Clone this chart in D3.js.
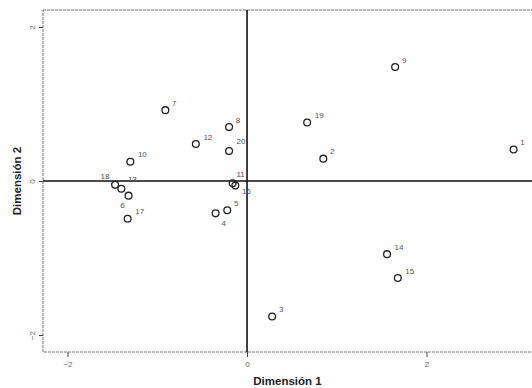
<!DOCTYPE html>
<html>
<head>
<meta charset="utf-8">
<script src="https://cdn.jsdelivr.net/npm/d3@7"></script>
<style>
  body { margin: 0; background: #fff; }
  svg { display: block; font-family: "Liberation Sans", Arial, sans-serif; }
</style>
</head>
<body>
<div class="result"></div>
<script>
// Object labels and their coordinates on the two dimensions
const ids = ['1', '2', '3', '4', '5', '6', '7', '8', '9', '10',
  '11', '12', '13', '14', '15', '16', '17', '18', '19', '20'];
const dim1 = [2.97, 0.85, 0.28, -0.35, -0.22, -1.32, -0.91, -0.20, 1.65, -1.30,
  -0.16, -0.57, -1.40, 1.56, 1.68, -0.13, -1.33, -1.47, 0.67, -0.20];
const dim2 = [0.41, 0.29, -1.76, -0.42, -0.38, -0.19, 0.92, 0.70, 1.48, 0.25,
  -0.03, 0.48, -0.10, -0.95, -1.26, -0.06, -0.49, -0.05, 0.76, 0.39];
const xTicks = [-2, 0, 2];
const yTicks = [-2, 0, 2];
const xTitle = 'Dimensión 1';
const yTitle = 'Dimensión 2';

const dataset = ids.map((id, i) => ({ id: id, x: dim1[i], y: dim2[i] }));

// Width and height
const w = 532;
const h = 388;
const plotLeft = 43, plotRight = 532, plotTop = 10, plotBottom = 352;

// label nudges (label centre relative to the circle) where the default does not fit
const nudge = {
  '4': [8, 10], '6': [-6, 10], '18': [-10, -8], '13': [11, -9],
  '16': [11, 6], '11': [8, -9], '20': [12, -9], '5': [9, -7]
};

const xScale = d3.scaleLinear().domain([-2.273, 3.175]).range([plotLeft, plotRight]);
const yScale = d3.scaleLinear().domain([-2.221, 2.221]).range([plotBottom, plotTop]);

const svg = d3.select('.result')
  .append('svg')
  .attr('width', w)
  .attr('height', h);

// Frame
svg.append('rect')
  .attr('x', plotLeft).attr('y', plotTop)
  .attr('width', plotRight - plotLeft + 2).attr('height', plotBottom - plotTop)
  .attr('fill', 'none')
  .attr('stroke', '#777')
  .attr('stroke-width', 1)
  .attr('stroke-dasharray', '3,1');

// Axes
const xAxis = d3.axisBottom(xScale).tickValues(xTicks).tickSize(5).tickSizeOuter(0)
  .tickFormat(d3.format('d'));
const yAxis = d3.axisLeft(yScale).tickValues(yTicks).tickSize(4).tickSizeOuter(0)
  .tickFormat(d3.format('d'));

const gx = svg.append('g')
  .attr('transform', 'translate(0,' + plotBottom + ')')
  .call(xAxis);
gx.select('.domain').remove();
gx.selectAll('.tick line').attr('stroke', '#444');
gx.selectAll('.tick text')
  .attr('fill', '#666').attr('font-size', 8).attr('dy', '0.9em');

const gy = svg.append('g')
  .attr('transform', 'translate(' + plotLeft + ',0)')
  .call(yAxis);
gy.select('.domain').remove();
gy.selectAll('.tick line').attr('stroke', '#444');
gy.selectAll('.tick text')
  .attr('fill', '#666').attr('font-size', 8)
  .attr('x', 0).attr('dy', 0)
  .attr('text-anchor', 'middle')
  .attr('transform', 'translate(-8,0) rotate(-90)');

// Zero reference lines
svg.append('line')
  .attr('x1', plotLeft).attr('x2', plotRight)
  .attr('y1', yScale(0)).attr('y2', yScale(0))
  .attr('stroke', '#111').attr('stroke-width', 1.6);
svg.append('line')
  .attr('x1', xScale(0)).attr('x2', xScale(0))
  .attr('y1', plotTop).attr('y2', plotBottom)
  .attr('stroke', '#111').attr('stroke-width', 1.6);

// Points
svg.selectAll('circle.pt')
  .data(dataset)
  .enter()
  .append('circle')
  .attr('class', 'pt')
  .attr('cx', d => xScale(d.x))
  .attr('cy', d => yScale(d.y))
  .attr('r', 3.4)
  .attr('fill', 'none')
  .attr('stroke', '#222')
  .attr('stroke-width', 1.3);

// Point labels
svg.selectAll('text.lbl')
  .data(dataset)
  .enter()
  .append('text')
  .attr('class', 'lbl')
  .attr('x', d => xScale(d.x) + (nudge[d.id] ? nudge[d.id][0] : (d.id.length > 1 ? 12 : 9)))
  .attr('y', d => yScale(d.y) + (nudge[d.id] ? nudge[d.id][1] : -7))
  .attr('text-anchor', 'middle')
  .attr('dominant-baseline', 'central')
  .attr('font-size', 8)
  .attr('fill', '#555')
  .text(d => d.id);

// Axis titles
svg.append('text')
  .attr('x', (plotLeft + plotRight) / 2)
  .attr('y', 385)
  .attr('text-anchor', 'middle')
  .attr('font-size', 11.5)
  .attr('font-weight', 'bold')
  .attr('fill', '#222')
  .text(xTitle);

svg.append('text')
  .attr('transform', 'translate(21,' + (plotTop + plotBottom) / 2 + ') rotate(-90)')
  .attr('text-anchor', 'middle')
  .attr('font-size', 11.5)
  .attr('font-weight', 'bold')
  .attr('fill', '#222')
  .text(yTitle);
</script>
</body>
</html>
